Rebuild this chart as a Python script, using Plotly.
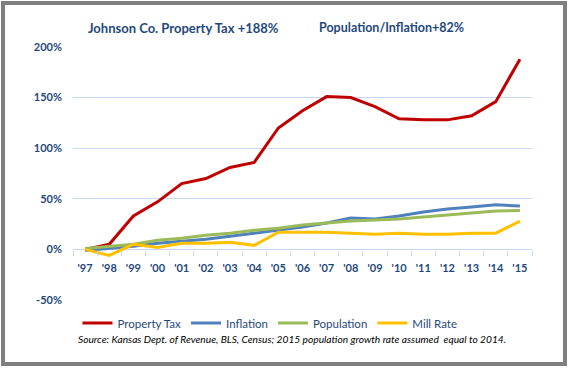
import plotly.graph_objects as go

years = ["'97", "'98", "'99", "'00", "'01", "'02", "'03", "'04", "'05", "'06",
         "'07", "'08", "'09", "'10", "'11", "'12", "'13", "'14", "'15"]
property_tax = [0, 5, 33, 47, 65, 70, 81, 86, 120, 137, 151, 150, 141, 129, 128, 128, 132, 146, 188]
inflation = [-1, 1, 3, 6, 8, 10, 13, 16, 19, 22, 26, 31, 30, 33, 37, 40, 42, 44, 43]
population = [1, 3, 5, 9, 11, 14, 16, 19, 21, 24, 26, 28, 29, 30, 32, 34, 36, 38, 38.5]
mill_rate = [0, -6, 5, 2, 6, 6, 7, 4, 17, 17, 17, 16, 15, 16, 15, 15, 16, 16, 28]
y_ticks = [-50, 0, 50, 100, 150, 200]
y_tick_labels = ["-50%", "0%", "50%", "100%", "150%", "200%"]

NAVY = "#1F497D"
FONT = "Lato"

fig = go.Figure()
series = [
    ("Property Tax", property_tax, "#C00000"),
    ("Inflation", inflation, "#4F81BD"),
    ("Population", population, "#9BBB59"),
    ("Mill Rate", mill_rate, "#FFC000"),
]
for name, vals, col in series:
    fig.add_trace(go.Scatter(x=years, y=vals, mode="lines", name=name,
                             line=dict(color=col, width=3)))

W, H = 568, 368
L, R, T, B = 73, 36, 47, 68
pw, ph = W - L - R, H - T - B

def px_x(x):
    return (x - L) / pw

def px_y(y):
    return (H - B - y) / ph

fig.add_shape(type="rect", xref="paper", yref="paper",
              x0=px_x(3), x1=px_x(565), y0=px_y(364), y1=px_y(3),
              line=dict(color="#7F7F7F", width=4), fillcolor="rgba(0,0,0,0)", layer="above")

fig.add_annotation(text="<b>Johnson Co. Property Tax +188%</b>", xref="paper", yref="paper",
                   x=px_x(183), y=px_y(28), showarrow=False,
                   font=dict(family=FONT, size=13, color=NAVY), xanchor="center", yanchor="middle")
fig.add_annotation(text="<b>Population/Inflation+82%</b>", xref="paper", yref="paper",
                   x=px_x(391), y=px_y(28), showarrow=False,
                   font=dict(family=FONT, size=12.5, color=NAVY), xanchor="center", yanchor="middle")
fig.add_annotation(text="<i>Source: Kansas Dept. of Revenue, BLS, Census; 2015 population growth rate assumed  equal to 2014.</i>",
                   xref="paper", yref="paper", x=px_x(292), y=px_y(339), showarrow=False,
                   font=dict(family=FONT, size=10.2, color="#000000"), xanchor="center", yanchor="middle")

fig.update_layout(
    width=W, height=H,
    margin=dict(l=L, r=R, t=T, b=B, autoexpand=False),
    paper_bgcolor="white", plot_bgcolor="white",
    font=dict(family=FONT, color=NAVY),
    showlegend=True,
    legend=dict(orientation="h", xanchor="center", x=px_x(270), yanchor="middle", y=px_y(323),
                font=dict(family=FONT, size=11.5, color=NAVY), bgcolor="rgba(0,0,0,0)",
                itemwidth=30),
    xaxis=dict(type="category", range=[-0.5, 18.5], showgrid=False, zeroline=False, showline=False,
               tickvals=years, ticktext=["<b>%s</b>" % y for y in years], tickangle=0,
               ticks="outside", tickson="boundaries", ticklen=5, tickcolor="#C6D9F1",
               tickfont=dict(family=FONT, size=11, color=NAVY), ticklabelstandoff=10,
               anchor="free", position=px_y(250), automargin=False),
    yaxis=dict(range=[-50, 200], tickvals=y_ticks, ticktext=["<b>%s</b>" % t for t in y_tick_labels],
               showgrid=True, gridcolor="#C6D9F1", gridwidth=1,
               zeroline=True, zerolinecolor="#C6D9F1", zerolinewidth=1,
               tickfont=dict(family=FONT, size=11, color=NAVY), ticks="", ticklabelstandoff=10,
               automargin=False),
)
fig.write_html("out.html", config={"displayModeBar": False},
               post_script="document.body.style.margin='0';document.body.style.overflow='hidden';")
